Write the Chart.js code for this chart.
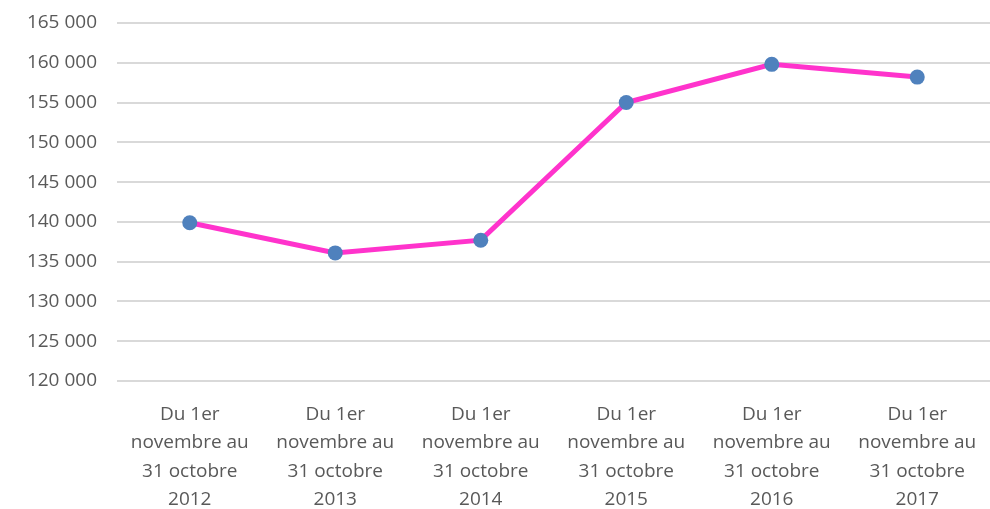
<!DOCTYPE html>
<html>
<head>
<meta charset="utf-8">
<script src="https://cdn.jsdelivr.net/npm/chart.js@4/dist/chart.umd.min.js"></script>
<style>
  html, body { margin: 0; padding: 0; background: #fff; }
  #wrap { width: 990px; height: 509px; }
</style>
</head>
<body>
<div id="wrap"><canvas id="lineChart"></canvas></div>
<script>
// periods on the x axis
const periods = [
    ['Du 1er', 'novembre au', '31 octobre', '2012'],
    ['Du 1er', 'novembre au', '31 octobre', '2013'],
    ['Du 1er', 'novembre au', '31 octobre', '2014'],
    ['Du 1er', 'novembre au', '31 octobre', '2015'],
    ['Du 1er', 'novembre au', '31 octobre', '2016'],
    ['Du 1er', 'novembre au', '31 octobre', '2017']
];
const values = [139900, 136100, 137700, 155000, 159800, 158200];
const yMin = 120000;
const yMax = 165000;
const yStep = 5000;

const fmt = v => String(v).replace(/\B(?=(\d{3})+(?!\d))/g, ' ');

const ctx = document.getElementById('lineChart');
new Chart(ctx, {
    type: 'line',
    data: {
        labels: periods,
        datasets: [{
            data: values,
            borderColor: '#ff33cc',
            borderWidth: 5,
            pointBackgroundColor: '#4f81bd',
            pointBorderColor: '#4f81bd',
            pointRadius: 7.5,
            pointBorderWidth: 0,
            tension: 0,
            clip: false
        }]
    },
    options: {
        responsive: true,
        maintainAspectRatio: false,
        animation: false,
        layout: {
            autoPadding: false,
            padding: { top: 23, right: 0, left: 0, bottom: 0 }
        },
        plugins: {
            legend: { display: false },
            tooltip: { enabled: false }
        },
        scales: {
            x: {
                offset: true,
                grid: { display: false },
                border: { display: false },
                afterFit: s => {
                    s.height = 128;
                    s.paddingLeft = 0;
                    s.paddingRight = 0;
                },
                ticks: {
                    color: '#595959',
                    font: { family: 'Open Sans', size: 19, lineHeight: 1.5 },
                    maxRotation: 0,
                    autoSkip: false,
                    padding: 11
                }
            },
            y: {
                min: yMin,
                max: yMax,
                afterFit: s => {
                    s.width = 117;
                    s.paddingTop = 0;
                    s.paddingBottom = 0;
                },
                grid: { color: '#d9d9d9', lineWidth: 2, drawTicks: false },
                border: { display: false },
                ticks: {
                    stepSize: yStep,
                    color: '#595959',
                    font: { family: 'Open Sans', size: 19 },
                    padding: 20,
                    callback: v => fmt(v)
                }
            }
        }
    }
});
</script>
</body>
</html>
